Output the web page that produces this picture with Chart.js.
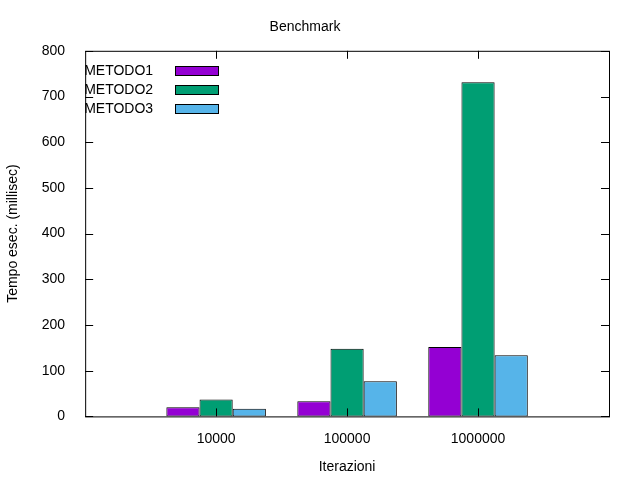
<!DOCTYPE html>
<html>
<head>
<meta charset="utf-8">
<script src="https://cdn.jsdelivr.net/npm/chart.js@4"></script>
<style>
  body { margin: 0; background: #fff; }
  #wrap { width: 640px; height: 480px; }
</style>
</head>
<body>
<div id="wrap"><canvas id="c"></canvas></div>
<script>
// --- Data ---
const categories = ['', '10000', '100000', '1000000', ''];
const metodo1 = [null, 20, 33, 152, null];
const metodo2 = [null, 37, 148, 731, null];
const metodo3 = [null, 17, 77, 134, null];
const seriesNames = ['METODO1', 'METODO2', 'METODO3'];
const colors = ['#9400d3', '#009e73', '#56b4e9'];
const yTicks = [0, 100, 200, 300, 400, 500, 600, 700, 800];

const FONT = 'Liberation Sans, Arial, sans-serif';

// gnuplot-like frame, mirrored ticks and inline legend
const framePlugin = {
  id: 'frame',
  afterDatasetsDraw(chart) {
    const { ctx, chartArea: a, scales } = chart;
    ctx.save();
    ctx.strokeStyle = '#000';
    ctx.lineWidth = 1;
    ctx.strokeRect(a.left + 0.5, a.top + 0.5, a.right - a.left, a.bottom - a.top);
    ctx.beginPath();
    yTicks.forEach(v => {
      const y = Math.round(scales.y.getPixelForValue(v)) + 0.5;
      ctx.moveTo(a.left, y); ctx.lineTo(a.left + 8, y);
      ctx.moveTo(a.right, y); ctx.lineTo(a.right - 8, y);
    });
    categories.forEach((c, i) => {
      if (!c) return;
      const x = Math.round(scales.x.getPixelForValue(i)) + 0.5;
      ctx.moveTo(x, a.bottom); ctx.lineTo(x, a.bottom - 8);
      ctx.moveTo(x, a.top); ctx.lineTo(x, a.top + 8);
    });
    ctx.stroke();

    ctx.font = '14px ' + FONT;
    ctx.textBaseline = 'middle';
    ctx.textAlign = 'left';
    seriesNames.forEach((n, i) => {
      const y = 71 + i * 19;
      ctx.fillStyle = '#000';
      ctx.fillText(n, a.left - 1, y);
      ctx.fillStyle = colors[i];
      ctx.fillRect(175, y - 4, 43, 8);
      ctx.strokeRect(175.5, y - 4.5, 43, 9);
    });
    ctx.restore();
  }
};

const data = [metodo1, metodo2, metodo3];

new Chart(document.getElementById('c'), {
  type: 'bar',
  data: {
    labels: categories,
    datasets: data.map((d, i) => ({
      label: seriesNames[i],
      data: d,
      backgroundColor: colors[i],
      borderColor: '#000',
      borderWidth: 1,
      borderSkipped: false,
      barPercentage: 1,
      categoryPercentage: 0.76
    }))
  },
  options: {
    responsive: true,
    maintainAspectRatio: false,
    animation: false,
    skipNull: true,
    layout: { padding: { top: 15, right: 31, bottom: 4, left: 1 } },
    plugins: {
      legend: { display: false },
      tooltip: { enabled: false },
      title: {
        display: true,
        text: 'Benchmark',
        color: '#000',
        font: { family: FONT, size: 14, weight: 'normal' },
        padding: { top: 4, bottom: 15 }
      }
    },
    scales: {
      x: {
        offset: false,
        grid: { display: false },
        border: { display: false },
        ticks: { color: '#000', font: { family: FONT, size: 14 }, padding: 6, maxRotation: 0, autoSkip: false },
        title: { display: true, text: 'Iterazioni', color: '#000', font: { family: FONT, size: 14 }, padding: { top: 6, bottom: 0 } }
      },
      y: {
        min: 0,
        max: 800,
        grid: { display: false },
        border: { display: false },
        afterBuildTicks: s => { s.ticks = yTicks.map(v => ({ value: v })); },
        ticks: { color: '#000', font: { family: FONT, size: 14 }, padding: 12 },
        title: { display: true, text: 'Tempo esec. (millisec)', color: '#000', font: { family: FONT, size: 14 }, padding: { bottom: 8 } }
      }
    }
  },
  plugins: [framePlugin]
});
</script>
</body>
</html>
